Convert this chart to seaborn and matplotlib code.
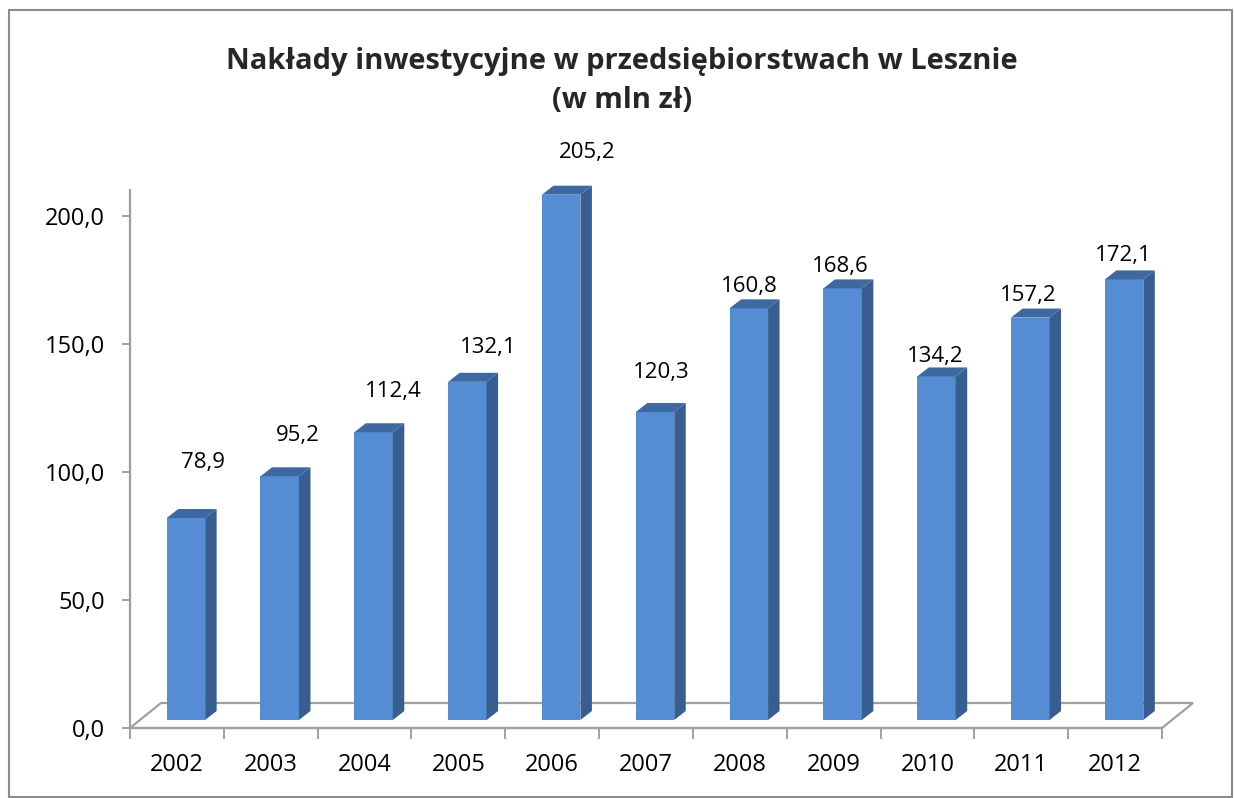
import matplotlib
matplotlib.use('Agg')
import matplotlib.pyplot as plt
import seaborn as sns
from matplotlib.patches import Polygon, Rectangle
from matplotlib.ticker import FuncFormatter, FixedLocator

# ── Data ──────────────────────────────────────────────────────
years = ['2002', '2003', '2004', '2005', '2006', '2007',
         '2008', '2009', '2010', '2011', '2012']
values = [78.9, 95.2, 112.4, 132.1, 205.2, 120.3,
          160.8, 168.6, 134.2, 157.2, 172.1]
y_ticks = [0, 50, 100, 150, 200]

# label placement (pixels from front-top of bar), Excel 3D style
label_dx_px = [17, 18, 20, 21, 26, 6, 0, -2, -1, -2, -1]
label_dy_px = [56, 41, 41, 34, 42, 40, 22, 22, 20, 22, 24]

# ── Style ─────────────────────────────────────────────────────
sns.set_theme(style="white")
plt.rcParams['font.family'] = ['Open Sans', 'DejaVu Sans']

FRONT = '#548DD4'
SIDE = '#375D91'
TOP = '#3D69A3'
GREY = '#A0A0A0'

W, H = 1234, 798
fig = plt.figure(figsize=(W / 100, H / 100), dpi=100)
fig.patch.set_facecolor('white')

# axes placed so that the front plane matches the reference
ax = fig.add_axes([130 / W, 70 / H, 1032 / W, (728 - 190.4) / H])
ymax = 210
px_per_x = 1032 / 11
px_per_y = (728 - 190.4) / ymax

sns.barplot(x=years, y=values, color=FRONT, saturation=1, width=0.41,
            edgecolor='none', ax=ax, zorder=3)
ax.set_xlim(-0.5, 10.5)
ax.set_ylim(0, ymax)

# 3D offsets (data units)
bar_dx, bar_dy = 9 / px_per_x, 8 / px_per_y        # bar sits mid-depth
dep_dx, dep_dy = 11.5 / px_per_x, 9 / px_per_y     # bar depth
floor_dx, floor_dy = 31 / px_per_x, 25 / px_per_y  # floor depth

# floor
floor = Polygon([(-0.5, 0), (10.5, 0), (10.5 + floor_dx, floor_dy),
                 (-0.5 + floor_dx, floor_dy)], closed=True,
                facecolor='white', edgecolor=GREY, linewidth=1.6,
                clip_on=False, zorder=1)
ax.add_patch(floor)

# extrude bars
for i, p in enumerate(ax.patches[:len(values)]):
    p.set_x(p.get_x() + bar_dx)
    p.set_y(p.get_y() + bar_dy)
    x0, x1 = p.get_x(), p.get_x() + p.get_width()
    b, t = p.get_y(), p.get_y() + p.get_height()
    side = Polygon([(x1, b), (x1 + dep_dx, b + dep_dy),
                    (x1 + dep_dx, t + dep_dy), (x1, t)], closed=True,
                   facecolor=SIDE, edgecolor='none', zorder=3, clip_on=False)
    top = Polygon([(x0, t), (x0 + dep_dx, t + dep_dy),
                   (x1 + dep_dx, t + dep_dy), (x1, t)], closed=True,
                  facecolor=TOP, edgecolor='none', zorder=3, clip_on=False)
    ax.add_patch(side)
    ax.add_patch(top)
    lx = (x0 + x1) / 2 + label_dx_px[i] / px_per_x
    ly = t + label_dy_px[i] / px_per_y
    ax.text(lx, ly, f'{values[i]:.1f}'.replace('.', ','), ha='center',
            va='center', fontsize=16, color='black', clip_on=False, zorder=5)

# axes styling
for s in ['top', 'right']:
    ax.spines[s].set_visible(False)
ax.spines['left'].set_color(GREY)
ax.spines['left'].set_linewidth(1.6)
ax.spines['bottom'].set_color(GREY)
ax.spines['bottom'].set_linewidth(1.6)
ax.spines['left'].set_zorder(0)

ax.set_yticks(y_ticks)
ax.yaxis.set_major_formatter(FuncFormatter(lambda v, _: f'{v:.1f}'.replace('.', ',')))
ax.tick_params(axis='y', direction='out', length=6, width=1.4, color=GREY,
               left=True, pad=12, labelsize=17, labelcolor='black')
ax.xaxis.set_minor_locator(FixedLocator([i - 0.5 for i in range(len(years) + 1)]))
ax.tick_params(axis='x', which='minor', direction='out', length=8, width=1.4,
               color=GREY, bottom=True)
ax.tick_params(axis='x', which='major', length=0, pad=18, labelsize=17,
               labelcolor='black')
ax.set_xlabel('')
ax.set_ylabel('')
ax.grid(False)

# title
fig.text(622 / W, 1 - 62 / H, 'Nakłady inwestycyjne w przedsiębiorstwach w Lesznie',
         ha='center', va='center', fontsize=21, fontweight='bold')
fig.text(622 / W, 1 - 100 / H, '(w mln zł)', ha='center', va='center',
         fontsize=21, fontweight='bold')

# chart frame
fig.patches.append(Rectangle((9 / W, 1 / H), (W - 11) / W, (H - 11) / H,
                             transform=fig.transFigure, fill=False,
                             edgecolor='#8C8C8C', linewidth=1.5))

fig.savefig('out.png', dpi=100, facecolor='white')
